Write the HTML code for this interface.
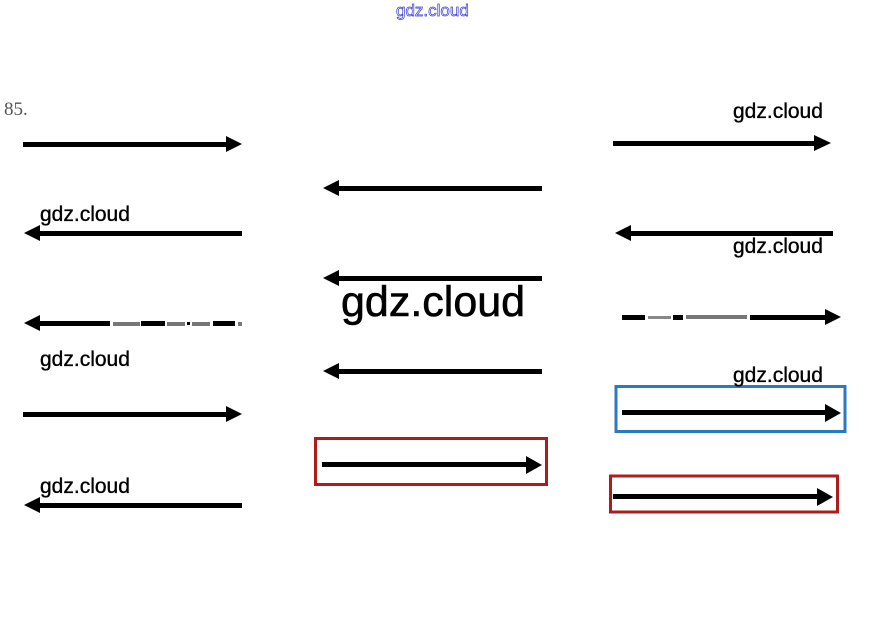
<!DOCTYPE html>
<html><head><meta charset="utf-8"><style>
html,body{margin:0;padding:0;background:#fff;}
svg{display:block;}
text{font-family:"Liberation Sans",sans-serif;}
</style></head><body>
<svg width="869" height="634" viewBox="0 0 869 634" xmlns="http://www.w3.org/2000/svg">
<rect width="869" height="634" fill="#fff"/>
<text x="396" y="16" font-size="17" fill="#fff" stroke="#3a3ad0" stroke-width="0.7">gdz.cloud</text>
<text x="4" y="115" font-size="19" fill="#555" style="font-family:'Liberation Serif',serif">85.</text>

<g fill="#000">
<!-- Left column -->
<rect x="23" y="142" width="205" height="5"/><polygon points="226,136 242,144 226,152"/>
<rect x="38" y="231" width="204" height="5"/><polygon points="40,225 24,233 40,241"/>
<rect x="38" y="321" width="72" height="5"/><polygon points="40,315 24,323 40,331"/>
<rect x="23" y="412" width="205" height="5"/><polygon points="226,406 242,414 226,422"/>
<rect x="38" y="503" width="204" height="5"/><polygon points="40,497 24,505 40,513"/>

<!-- Middle column -->
<rect x="337" y="186" width="205" height="5"/><polygon points="339,180 323,188 339,196"/>
<rect x="337" y="276" width="205" height="5"/><polygon points="339,270 323,278 339,286"/>
<rect x="337" y="369" width="205" height="5"/><polygon points="339,363 323,371 339,379"/>
<rect x="322" y="462" width="206" height="5"/><polygon points="526,456 542,465 526,474"/>

<!-- Right column -->
<rect x="613" y="141" width="203" height="5"/><polygon points="814,135 831,143 814,151"/>
<rect x="629" y="231" width="204" height="5"/><polygon points="631,225 615,233 631,241"/>
<rect x="750" y="315" width="77" height="5"/><polygon points="825,309 841,317 825,325"/>
<rect x="622" y="410" width="205" height="5"/><polygon points="825,404 841,413 825,422"/>
<rect x="613" y="494" width="206" height="5"/><polygon points="817,488 833,497 817,506"/>
</g>

<!-- dashed portions -->
<g>
<rect x="113" y="322" width="27" height="4" fill="#777"/>
<rect x="141" y="321" width="24" height="5" fill="#000"/>
<rect x="167" y="322" width="18" height="4" fill="#777"/>
<rect x="187" y="322" width="3" height="3" fill="#000"/>
<rect x="192" y="322" width="18" height="4" fill="#777"/>
<rect x="213" y="321" width="22" height="5" fill="#000"/>
<rect x="238" y="322" width="4" height="4" fill="#777"/>

<rect x="622" y="315" width="23" height="5" fill="#000"/>
<rect x="648" y="316" width="23" height="3" fill="#888"/>
<rect x="673" y="315" width="10" height="5" fill="#000"/>
<rect x="686" y="315" width="61" height="4" fill="#777"/>
</g>

<!-- boxes -->
<rect x="315.5" y="438.5" width="231" height="46" fill="none" stroke="#b01c1c" stroke-width="3"/>
<rect x="616" y="386.5" width="229" height="45" fill="none" stroke="#2a7ac0" stroke-width="3"/>
<rect x="610.5" y="476" width="227" height="36" fill="none" stroke="#b01c1c" stroke-width="3"/>

<!-- labels -->
<g fill="#000" stroke="#000" stroke-width="0.35" font-size="21">
<text x="40" y="221">gdz.cloud</text>
<text x="40" y="366">gdz.cloud</text>
<text x="40" y="493">gdz.cloud</text>
<text x="733" y="118">gdz.cloud</text>
<text x="733" y="253">gdz.cloud</text>
<text x="733" y="382">gdz.cloud</text>
</g>
<text x="341" y="316" font-size="43" fill="#000" stroke="#000" stroke-width="0.6">gdz.cloud</text>
</svg>
</body></html>
